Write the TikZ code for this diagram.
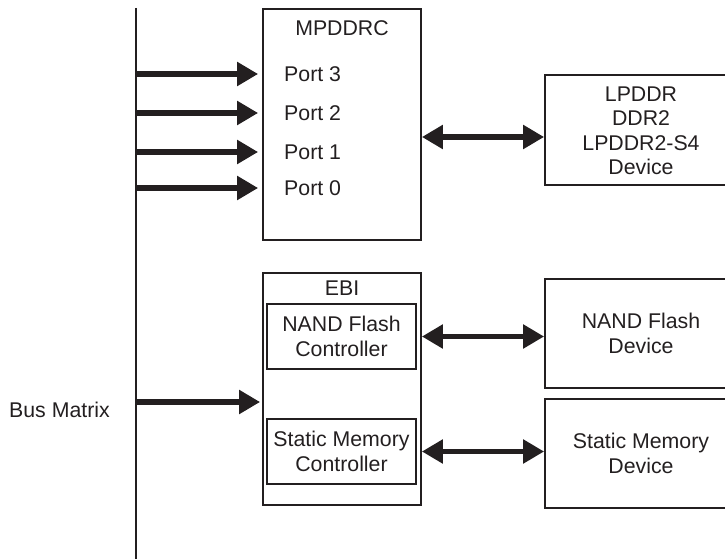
\documentclass[tikz,border=0pt]{standalone}
\usepackage{fontspec}
\setmainfont{Liberation Sans}
\usetikzlibrary{arrows.meta}
\definecolor{ink}{HTML}{231F20}
\begin{document}
\begin{tikzpicture}[x=1pt,y=-1pt,
    every node/.style={font=\fontsize{21.3}{24.5}\selectfont, text=ink},
    box/.style={draw=ink, line width=1.8pt, inner sep=0pt},
    txt/.style={align=center, inner sep=0pt},
    feed/.style={ink, line width=5.5pt, -{Triangle[length=21pt,width=23pt]}},
    link/.style={ink, line width=5.5pt, {Triangle[length=21pt,width=23pt]}-{Triangle[length=21pt,width=23pt]}}]
  \useasboundingbox (0,0) rectangle (725,559);
  % Bus matrix
  \coordinate (bustop) at (136,8);
  \coordinate (busbot) at (136,562);
  \draw[ink, line width=1.8pt] (bustop) -- (busbot);
  \node[txt, anchor=east] (busmatrix) at (110,410) {Bus Matrix};
  % MPDDRC
  \node[box, minimum width=158pt, minimum height=231pt] (mpddrc) at (342,124.5) {};
  \node[txt] (mpddrctitle) at (342,28) {MPDDRC};
  \foreach \n/\y in {3/74,2/113,1/152,0/188}{
    \node[txt, anchor=west] (p\n) at (284,\y) {Port \n};
    \draw[feed, shorten >=4pt] (bustop |- p\n) -- (mpddrc.west |- p\n);
  }
  \node[box, minimum width=192pt, minimum height=110pt] (lpddr) at (641,130) {};
  \node[txt] (lpddrtext) at (641,131) {LPDDR\\DDR2\\LPDDR2-S4\\Device};
  \draw[link] ([yshift=-7pt]lpddr.west -| mpddrc.east) -- ([yshift=-7pt]lpddr.west);
  % EBI
  \node[box, minimum width=158pt, minimum height=232pt] (ebi) at (342,389) {};
  \node[txt] (ebititle) at (342,288) {EBI};
  \node[box, txt, minimum width=149pt, minimum height=65pt] (nandctl) at (341.5,336.5) {NAND Flash\\Controller};
  \node[box, txt, minimum width=149pt, minimum height=65pt] (smctl) at (341.5,451.5) {Static Memory\\Controller};
  \draw[feed, shorten >=2pt] ([yshift=-13pt]ebi.west -| bustop) -- ([yshift=-13pt]ebi.west);
  % Devices
  \node[box, txt, minimum width=192pt, minimum height=109pt] (nanddev) at (641,333.5) {NAND Flash\\Device};
  \node[box, txt, minimum width=192pt, minimum height=109pt] (smdev) at (641,453.5) {Static Memory\\Device};
  \draw[link] (ebi.east |- nandctl) -- (nanddev.west |- nandctl);
  \draw[link] (ebi.east |- smctl) -- (smdev.west |- smctl);
\end{tikzpicture}
\end{document}
